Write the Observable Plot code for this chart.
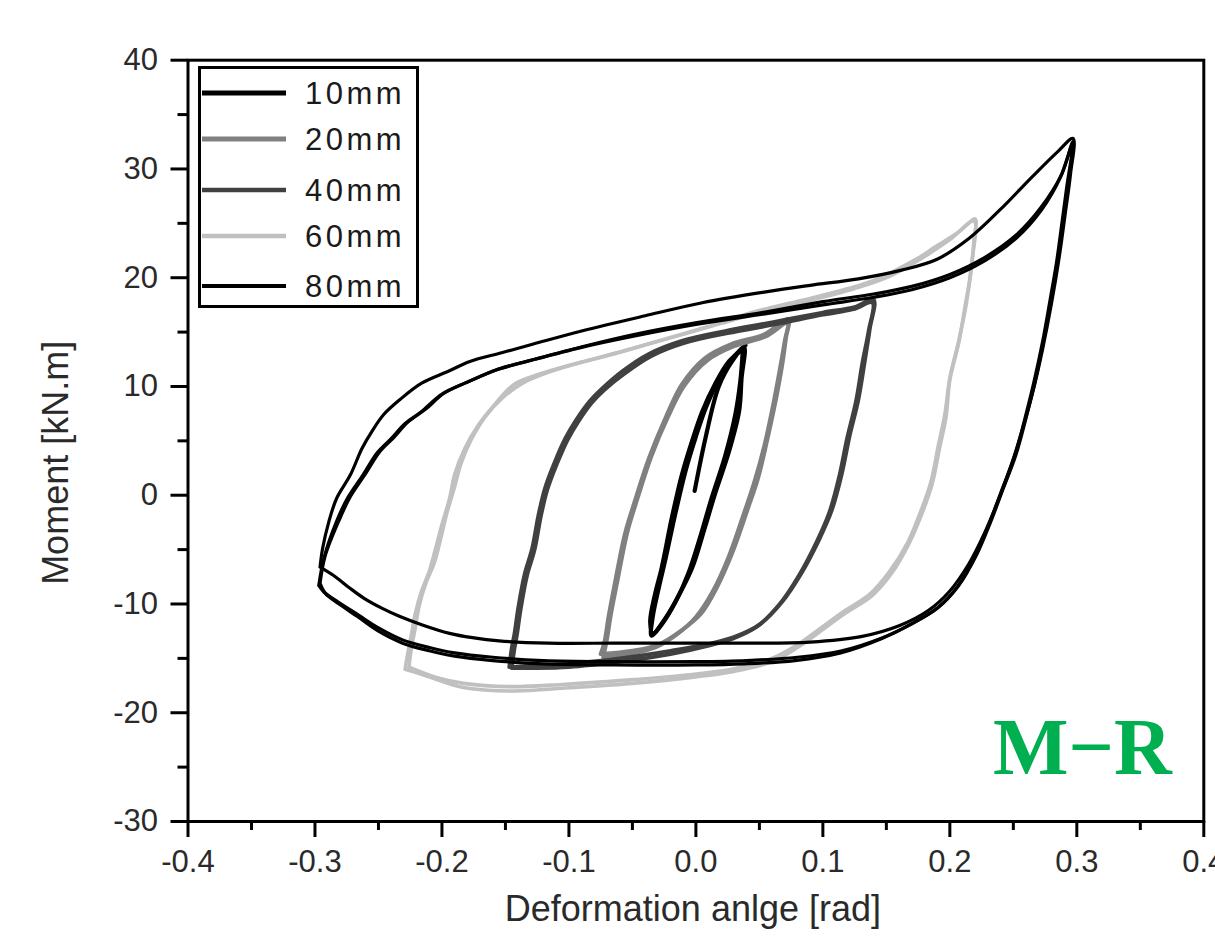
<!DOCTYPE html>
<html><head><meta charset="utf-8">
<script src="https://cdn.jsdelivr.net/npm/d3@7"></script>
<script src="https://cdn.jsdelivr.net/npm/@observablehq/plot@0.6"></script>
<style>
html,body{margin:0;padding:0;background:#fff;}
#wrap{position:relative;width:1215px;height:945px;overflow:hidden;}
#overlay{position:absolute;left:0;top:0;}
</style></head><body><div id="wrap"></div>
<script>
// ---------- DATA (deformation angle [rad], moment [kN.m]) ----------
const loop10mm_c1 = [[-0.001,0.4],[0.008,5.5],[0.018,10.0],[0.029,12.4],[0.038,13.6],
 [0.036,10.8],[0.034,7.7],[0.026,4.0],[0.015,0.1],[0.007,-3.0],[-0.003,-6.7],[-0.013,-9.1],[-0.024,-11.3],[-0.034,-12.7],
 [-0.036,-11.6],[-0.032,-9.0],[-0.027,-6.7],[-0.019,-2.1],[-0.011,1.9],[-0.003,5.0],[0.005,7.7],[0.015,10.2],[0.026,12.3],[0.037,13.4]];
const loop10mm_c2 = [[0.037,13.4],[0.035,10.5],[0.031,7.4],[0.023,3.6],[0.012,-0.4],[0.004,-3.6],[-0.006,-7.2],[-0.016,-9.8],[-0.027,-11.9],[-0.035,-12.9],
 [-0.034,-11.2],[-0.029,-8.4],[-0.024,-5.9],[-0.016,-1.6],[-0.008,2.3],[0.0,5.4],[0.008,8.1],[0.018,10.6],[0.029,12.6],[0.039,13.8]];
const loop20mm_c1 = [[-0.075,-14.6],[-0.072,-13.5],[-0.069,-11.3],[-0.064,-8.2],[-0.056,-3.6],[-0.048,-0.5],[-0.037,3.4],[-0.024,7.1],[-0.011,10.2],[0.007,12.6],[0.028,13.9],[0.054,14.8],[0.073,16.2],
 [0.071,14.5],[0.068,12.0],[0.063,8.8],[0.056,5.0],[0.049,1.6],[0.041,-1.2],[0.029,-5.2],[0.016,-8.6],[0.004,-10.9],[-0.011,-12.4],[-0.029,-13.7],[-0.05,-14.3],[-0.075,-14.6]];
const loop20mm_c2 = [[-0.073,-14.9],[-0.07,-13.2],[-0.067,-11.0],[-0.062,-8.0],[-0.054,-3.4],[-0.046,-0.3],[-0.035,3.6],[-0.022,7.2],[-0.009,10.1],[0.009,12.4],[0.03,13.7],[0.055,14.6],[0.072,15.8],
 [0.07,14.2],[0.066,11.5],[0.061,8.4],[0.054,4.6],[0.046,1.2],[0.038,-1.6],[0.026,-5.6],[0.013,-8.9],[0.0,-11.2],[-0.015,-12.8],[-0.032,-14.0],[-0.052,-14.6],[-0.073,-14.9]];
const loop40mm_c1 = [[-0.147,-15.8],[-0.145,-14.0],[-0.143,-12.8],[-0.14,-10.4],[-0.135,-7.3],[-0.129,-4.9],[-0.124,-1.8],[-0.119,0.6],[-0.111,3.1],[-0.103,5.2],[-0.095,6.8],[-0.084,8.6],[-0.074,9.8],[-0.058,11.4],[-0.037,13.0],[-0.011,14.2],[0.023,15.1],[0.06,15.9],[0.1,16.8],[0.125,17.3],[0.14,18.0],
 [0.137,15.3],[0.133,12.3],[0.128,8.8],[0.121,5.4],[0.115,2.0],[0.107,-1.4],[0.097,-4.1],[0.083,-7.2],[0.068,-9.8],[0.05,-11.9],[0.031,-13.0],[0.013,-13.6],[-0.02,-14.3],[-0.06,-15.0],[-0.1,-15.5],[-0.13,-15.7],[-0.147,-15.8]];
const loop40mm_c2 = [[-0.145,-15.9],[-0.143,-14.2],[-0.141,-12.9],[-0.138,-10.5],[-0.133,-7.4],[-0.127,-5.0],[-0.122,-1.9],[-0.117,0.5],[-0.109,3.0],[-0.101,5.1],[-0.093,6.7],[-0.082,8.5],[-0.072,9.7],[-0.056,11.2],[-0.035,12.8],[-0.009,14.0],[0.025,14.9],[0.062,15.7],[0.1,16.6],[0.124,17.1],[0.139,17.7],
 [0.136,15.1],[0.131,12.1],[0.126,8.6],[0.119,5.2],[0.113,1.8],[0.105,-1.6],[0.095,-4.3],[0.081,-7.4],[0.066,-10.0],[0.048,-12.1],[0.029,-13.2],[0.011,-13.8],[-0.02,-14.6],[-0.06,-15.3],[-0.1,-15.8],[-0.13,-15.9],[-0.145,-15.9]];
const loop60mm_c1 = [[-0.229,-16.0],[-0.227,-14.6],[-0.224,-12.8],[-0.221,-10.9],[-0.216,-8.8],[-0.21,-7.0],[-0.205,-4.9],[-0.2,-2.7],[-0.194,-0.3],[-0.19,1.9],[-0.182,4.3],[-0.171,6.5],[-0.158,8.4],[-0.143,10.2],[-0.124,11.1],[-0.098,12.0],[-0.064,13.0],[-0.029,14.2],[0.015,15.7],[0.044,16.8],[0.083,17.9],[0.12,19.0],[0.141,19.8],[0.175,21.8],[0.188,22.8],[0.207,24.2],[0.22,25.4],
 [0.219,23.5],[0.217,20.8],[0.212,17.4],[0.207,14.0],[0.2,10.6],[0.197,7.2],[0.192,4.4],[0.186,1.0],[0.178,-1.7],[0.168,-4.4],[0.154,-7.2],[0.139,-9.2],[0.117,-10.9],[0.097,-12.6],[0.08,-14.0],[0.06,-15.3],[0.03,-16.2],[0.0,-16.7],[-0.05,-17.3],[-0.1,-17.7],[-0.143,-18.0],[-0.182,-17.7],[-0.2,-17.1],[-0.215,-16.5],[-0.229,-16.0]];
const loop60mm_c2 = [[-0.226,-15.8],[-0.224,-14.0],[-0.221,-12.2],[-0.218,-10.2],[-0.213,-8.2],[-0.206,-6.2],[-0.201,-4.0],[-0.196,-1.6],[-0.19,0.8],[-0.185,2.9],[-0.177,5.1],[-0.166,7.2],[-0.152,9.0],[-0.135,10.4],[-0.114,11.4],[-0.088,12.3],[-0.056,13.3],[-0.022,14.4],[0.02,15.8],[0.05,16.8],[0.09,17.9],[0.125,19.0],[0.15,20.0],[0.178,21.8],[0.2,23.5],[0.219,25.2],
 [0.217,21.2],[0.213,17.6],[0.207,14.2],[0.2,10.8],[0.196,7.4],[0.191,4.6],[0.185,1.2],[0.177,-1.5],[0.167,-4.3],[0.152,-7.1],[0.137,-9.1],[0.115,-10.8],[0.095,-12.5],[0.078,-13.9],[0.058,-15.1],[0.028,-16.0],[-0.005,-16.5],[-0.055,-17.0],[-0.105,-17.4],[-0.147,-17.6],[-0.183,-17.3],[-0.203,-16.8],[-0.226,-15.8]];
const loop80mm_c1 = [[-0.296,-6.6],[-0.294,-4.9],[-0.289,-2.4],[-0.283,-0.3],[-0.272,1.9],[-0.263,4.3],[-0.255,5.9],[-0.246,7.4],[-0.233,8.8],[-0.216,10.3],[-0.195,11.4],[-0.178,12.3],[-0.153,13.1],[-0.128,13.9],[-0.09,15.1],[-0.04,16.5],[0.005,17.7],[0.055,18.7],[0.09,19.3],[0.128,19.9],[0.162,20.7],[0.19,21.7],[0.215,23.6],[0.24,26.3],[0.265,29.3],[0.285,31.6],[0.297,32.8],
 [0.295,29.5],[0.291,26.0],[0.286,21.8],[0.28,17.6],[0.273,13.4],[0.266,9.8],[0.258,6.4],[0.249,3.0],[0.239,-0.2],[0.228,-3.3],[0.215,-6.3],[0.2,-8.8],[0.183,-10.6],[0.16,-12.0],[0.13,-13.0],[0.09,-13.5],[0.04,-13.6],[-0.02,-13.6],[-0.064,-13.6],[-0.116,-13.6],[-0.155,-13.4],[-0.176,-13.1],[-0.194,-12.7],[-0.216,-11.9],[-0.234,-11.1],[-0.247,-10.4],[-0.261,-9.5],[-0.273,-8.5],[-0.285,-7.4],[-0.296,-6.6]];
const loop80mm_c2 = [[-0.297,-8.3],[-0.293,-5.8],[-0.283,-2.4],[-0.274,-0.2],[-0.262,1.9],[-0.251,3.9],[-0.24,5.2],[-0.229,6.6],[-0.216,7.7],[-0.2,9.3],[-0.18,10.4],[-0.158,11.5],[-0.13,12.4],[-0.09,13.6],[-0.05,14.6],[0.0,15.7],[0.05,16.6],[0.1,17.5],[0.14,18.2],[0.17,18.9],[0.2,20.0],[0.228,21.6],[0.252,23.6],[0.272,26.2],[0.287,29.2],[0.297,32.5],
 [0.293,28.5],[0.289,25.0],[0.285,21.6],[0.28,18.2],[0.274,14.3],[0.267,10.4],[0.26,7.1],[0.252,3.7],[0.242,0.6],[0.232,-2.5],[0.221,-5.5],[0.207,-8.3],[0.191,-10.3],[0.17,-11.8],[0.147,-13.1],[0.115,-14.3],[0.08,-14.9],[0.04,-15.2],[0.0,-15.3],[-0.064,-15.3],[-0.12,-15.2],[-0.16,-14.9],[-0.19,-14.5],[-0.21,-14.0],[-0.231,-13.3],[-0.25,-12.2],[-0.266,-11.0],[-0.282,-9.8],[-0.293,-8.9],[-0.297,-8.3]];
const loop80mm_c3 = [[-0.296,-8.1],[-0.292,-5.6],[-0.281,-2.3],[-0.272,-0.1],[-0.26,2.0],[-0.249,4.0],[-0.238,5.3],[-0.227,6.7],[-0.213,7.9],[-0.198,9.4],[-0.178,10.5],[-0.155,11.6],[-0.127,12.5],[-0.088,13.7],[-0.048,14.8],[0.002,15.9],[0.052,16.8],[0.1,17.8],[0.14,18.5],[0.17,19.2],[0.2,20.3],[0.228,21.9],[0.252,23.9],[0.272,26.5],[0.288,29.5],[0.297,32.5],
 [0.292,28.3],[0.288,24.8],[0.284,21.4],[0.279,18.0],[0.273,14.1],[0.266,10.3],[0.259,7.0],[0.251,3.6],[0.241,0.5],[0.231,-2.6],[0.22,-5.6],[0.206,-8.4],[0.19,-10.4],[0.169,-11.9],[0.146,-13.2],[0.114,-14.5],[0.078,-15.2],[0.038,-15.5],[0.0,-15.6],[-0.064,-15.6],[-0.12,-15.5],[-0.16,-15.2],[-0.19,-14.8],[-0.21,-14.3],[-0.231,-13.6],[-0.25,-12.5],[-0.266,-11.2],[-0.281,-10.0],[-0.292,-9.0],[-0.296,-8.1]];

const seriesNames = ["10mm","20mm","40mm","60mm","80mm"];
const seriesCycles = [[loop10mm_c1, loop10mm_c2],[loop20mm_c1, loop20mm_c2],[loop40mm_c1, loop40mm_c2],[loop60mm_c1, loop60mm_c2],[loop80mm_c1, loop80mm_c2, loop80mm_c3]];
const xTicks = [-0.4,-0.3,-0.2,-0.1,0.0,0.1,0.2,0.3,0.4];
const xMinorTicks = [-0.35,-0.25,-0.15,-0.05,0.05,0.15,0.25,0.35];
const yTicks = [-30,-20,-10,0,10,20,30,40];
const yMinorTicks = [-25,-15,-5,5,15,25,35];
const xLabel = "Deformation anlge [rad]";
const yLabel = "Moment [kN.m]";
const panelTag = "M\u2212R";

// ---------- STYLE ----------
const colors = ["#000000","#808080","#404040","#c0c0c0","#000000"];
const widths = [4.2,4,3.8,3.6,3.2];
const font = "'Liberation Sans', Arial, sans-serif";
const textColor = "#2a2a2a";

const lineMarks = [];
seriesCycles.forEach((cycles, i) => cycles.forEach(c => lineMarks.push(
  Plot.line(c, {x: d => d[0], y: d => d[1], stroke: colors[i], strokeWidth: widths[i], curve: "catmull-rom", strokeLinejoin: "round"})
)));

const chart = Plot.plot({
  width: 1215, height: 945,
  marginLeft: 187.5, marginRight: 11.7, marginTop: 59.7, marginBottom: 124,
  x: {domain: [-0.4, 0.4]},
  y: {domain: [-30, 40]},
  style: {fontFamily: font, background: "#fff", color: "#000", overflow: "visible"},
  marks: [
    ...lineMarks,
    Plot.frame({strokeWidth: 3}),
    Plot.axisX({ticks: xTicks, tickSize: 16, strokeWidth: 3, tickFormat: () => "", label: null}),
    Plot.axisX({ticks: xMinorTicks, tickSize: 9, strokeWidth: 3, tickFormat: () => "", label: null}),
    Plot.axisX({ticks: xTicks, tickSize: 0, tickPadding: 28, fontSize: 31, color: textColor, tickFormat: d => d.toFixed(1), label: null}),
    Plot.axisY({ticks: yTicks, tickSize: 17, strokeWidth: 3, tickFormat: () => "", label: null}),
    Plot.axisY({ticks: yMinorTicks, tickSize: 10, strokeWidth: 3, tickFormat: () => "", label: null}),
    Plot.axisY({ticks: yTicks, tickSize: 0, tickPadding: 30, fontSize: 31, color: textColor, tickFormat: d => String(d), label: null}),
    Plot.text([xLabel], {frameAnchor: "bottom", textAnchor: "middle", dx: -3, dy: 99, fontSize: 36, fill: textColor}),
    Plot.text([yLabel], {frameAnchor: "left", textAnchor: "middle", lineAnchor: "middle", rotate: -90, dx: -132, dy: 22, fontSize: 36, fill: textColor})
  ]
});
const wrap = document.getElementById("wrap");
wrap.appendChild(chart);

// ---------- LEGEND + TAG overlay ----------
const ns = "http://www.w3.org/2000/svg";
const ov = document.createElementNS(ns, "svg");
ov.setAttribute("id", "overlay");
ov.setAttribute("width", 1215); ov.setAttribute("height", 945);
const box = document.createElementNS(ns, "rect");
Object.entries({x: 199.5, y: 67.5, width: 218, height: 239, fill: "#fff", stroke: "#000", "stroke-width": 3}).forEach(([k,v]) => box.setAttribute(k, v));
ov.appendChild(box);
const legendY = [93, 139, 190, 236, 286];
seriesNames.forEach((name, i) => {
  const ln = document.createElementNS(ns, "line");
  Object.entries({x1: 202, x2: 286, y1: legendY[i], y2: legendY[i], stroke: colors[i], "stroke-width": widths[i] + 0.8}).forEach(([k,v]) => ln.setAttribute(k, v));
  ov.appendChild(ln);
  const t = document.createElementNS(ns, "text");
  Object.entries({x: 305, y: legendY[i] + 10.5, fill: "#1a1a1a", "font-family": font, "font-size": 31, "letter-spacing": 3.5}).forEach(([k,v]) => t.setAttribute(k, v));
  t.textContent = name;
  ov.appendChild(t);
});
const tag = document.createElementNS(ns, "text");
Object.entries({x: 993, y: 774, fill: "#00b050", "font-family": "'Liberation Serif', 'Times New Roman', serif", "font-weight": "bold", "font-size": 80}).forEach(([k,v]) => tag.setAttribute(k, v));
tag.textContent = panelTag;
ov.appendChild(tag);
wrap.appendChild(ov);
</script></body></html>
